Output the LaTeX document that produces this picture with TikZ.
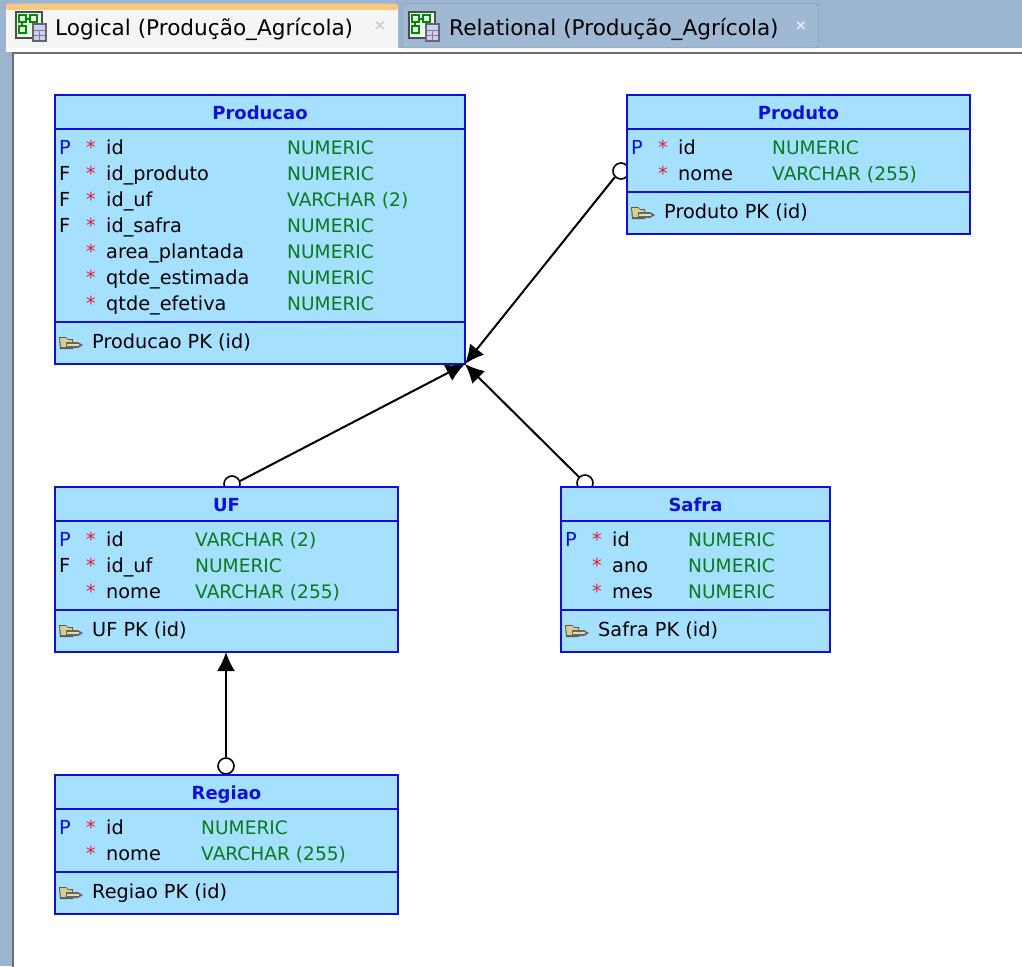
\documentclass[tikz,border=0pt]{standalone}
\usepackage{fontspec}
\setmainfont{DejaVu Sans}
\usetikzlibrary{arrows.meta}
\definecolor{bgblue}{HTML}{9BB5D1}
\definecolor{tabin}{HTML}{9FB8D3}
\definecolor{boxfill}{HTML}{A5E0FF}
\definecolor{boxline}{HTML}{1010D8}
\definecolor{typegreen}{HTML}{0A7A1E}
\definecolor{starred}{HTML}{E0203A}
\definecolor{tabtop}{HTML}{F8C97C}
\definecolor{frame}{HTML}{6E6E6E}
\definecolor{keyfold}{HTML}{D8CF8A}
\tikzset{
  ent/.style={draw=boxline,line width=2pt,fill=boxfill,inner sep=0pt,outer sep=0pt,anchor=north west},
  sepline/.style={draw=boxline,line width=2pt},
  txt/.style={inner sep=0pt,anchor=base west,font=\fontsize{19.3}{22}\selectfont},
  ttl/.style={inner sep=0pt,anchor=base,font=\fontsize{18}{20}\selectfont\bfseries,text=boxline},
  kind/.style={txt,text=boxline},
  star/.style={txt,text=starred},
  coltype/.style={txt,text=typegreen,font=\fontsize{18.6}{22}\selectfont},
  tabtxt/.style={inner sep=0pt,anchor=base west,font=\fontsize{21.6}{24}\selectfont},
  rel/.style={draw=black,line width=2pt,-{Latex[length=19pt,width=18pt]}},
  opt/.style={draw=black,line width=1.6pt,fill=white,circle,minimum size=16pt,inner sep=0pt},
}
\newcommand{\entbox}[7]{%
  \node[ent,minimum width=#4pt,minimum height=#5pt] (#1) at (#2,#3) {};
  \draw[sepline] (#2,#3+34) -- (#2+#4,#3+34);
  \draw[sepline] (#2,#3+#7) -- (#2+#4,#3+#7);
  \node[ttl] (#1t) at (#2+#4/2,#3+24) {#6};
}
\newcommand{\colrow}[7]{%
  \node[kind] (k#1) at (#2+4,#3+7) {#4};
  \node[star] (s#1) at (#2+31,#3+7) {*};
  \node[txt] (n#1) at (#2+51,#3+7) {#5};
  \node[coltype] (c#1) at (#6,#3+7) {#7};
}
\newcommand{\keyicon}[2]{%
  \fill[black!65] (#1,#2-5) -- (#1+7,#2-5) -- (#1+9,#2-3) -- (#1+14,#2-3) -- (#1+14,#2+7) -- (#1+1,#2+7) -- cycle;
  \fill[keyfold] (#1+1,#2-4) -- (#1+7,#2-4) -- (#1+9,#2-2) -- (#1+13,#2-2) -- (#1+13,#2+5) -- (#1+2,#2+5) -- cycle;
  \fill[black!60] (#1+7,#2) -- (#1+19,#2) -- (#1+24,#2+3) -- (#1+19,#2+6) -- (#1+7,#2+6) -- cycle;
  \fill[keyfold!70!white] (#1+8,#2+1.5) rectangle (#1+20,#2+3.5);
}
\newcommand{\tabicon}[2]{%
  \fill[black!70] (#1,#2) rectangle (#1+28,#2+28);
  \fill[green!8!white] (#1+2,#2+2) rectangle (#1+26,#2+26);
  \draw[green!55!black,line width=1.6pt] (#1+4,#2+4) rectangle (#1+11,#2+11) (#1+15,#2+4) rectangle (#1+22,#2+11) (#1+4,#2+15) rectangle (#1+11,#2+22) (#1+7,#2+11) -- (#1+7,#2+15) (#1+11,#2+8) -- (#1+15,#2+8);
  \fill[black!60] (#1+17,#2+12) rectangle (#1+32,#2+31);
  \fill[blue!20!white] (#1+19,#2+14) rectangle (#1+30,#2+29);
  \draw[black!50,line width=.8pt] (#1+19,#2+19) -- (#1+30,#2+19) (#1+19,#2+24) -- (#1+30,#2+24) (#1+24.5,#2+19) -- (#1+24.5,#2+29);
}
\begin{document}
\begin{tikzpicture}[x=1pt,y=-1pt]
\useasboundingbox (0,0) rectangle (1022,966);
\fill[bgblue] (0,0) rectangle (1022,966);
% tabs
\fill[white] (6,48) rectangle (1022,52);
\fill[tabin,draw=bgblue!85!black,line width=.5pt,rounded corners=3pt] (402,4) -- (818,4) -- (818,48) -- (402,48) -- cycle;
\fill[white!96!black,rounded corners=3pt] (6,4) -- (398,4) -- (398,48) -- (6,48) -- cycle;
\fill[tabtop,rounded corners=2pt] (6,4) rectangle (398,10);
\fill[white!96!black] (6,10) rectangle (398,48);
% canvas
\fill[white,draw=frame,line width=2pt] (13,53) rectangle (1030,980);
\tabicon{15}{11}
\node[tabtxt] (tab1) at (55,36) {Logical (Produção\_Agrícola)};
\node[inner sep=0pt,text=black!20,font=\fontsize{15}{15}\selectfont\bfseries] (x1) at (380,26) {×};
\tabicon{408}{11}
\node[tabtxt] (tab2) at (449,36) {Relational (Produção\_Agrícola)};
\node[inner sep=0pt,text=white!75!bgblue,font=\fontsize{15}{15}\selectfont\bfseries] (x3) at (801,26) {×};

% optional circles (behind boxes)
\node[opt] (oprod) at (621,171) {};
\node[opt] (ouf) at (232,484) {};
\node[opt] (osaf) at (585,483) {};
\node[opt] (oreg) at (226,766) {};
\coordinate (corner) at (465,364);

% Producao
\entbox{producao}{55}{95}{410}{269}{Producao}{227}
\colrow{a1}{55}{147}{P}{id}{287}{NUMERIC}
\colrow{a2}{55}{173}{\textcolor{black}{F}}{id\_produto}{287}{NUMERIC}
\colrow{a3}{55}{199}{\textcolor{black}{F}}{id\_uf}{287}{VARCHAR (2)}
\colrow{a4}{55}{225}{\textcolor{black}{F}}{id\_safra}{287}{NUMERIC}
\colrow{a5}{55}{251}{}{area\_plantada}{287}{NUMERIC}
\colrow{a6}{55}{277}{}{qtde\_estimada}{287}{NUMERIC}
\colrow{a7}{55}{303}{}{qtde\_efetiva}{287}{NUMERIC}
\keyicon{59}{342}
\node[txt] (ka) at (92,348) {Producao PK (id)};

% Produto
\entbox{produto}{627}{95}{343}{139}{Produto}{97}
\colrow{b1}{627}{147}{P}{id}{772}{NUMERIC}
\colrow{b2}{627}{173}{}{nome}{772}{VARCHAR (255)}
\keyicon{631}{212}
\node[txt] (kb) at (664,218) {Produto PK (id)};

% UF
\entbox{uf}{55}{487}{343}{165}{UF}{123}
\colrow{c1}{55}{539}{P}{id}{195}{VARCHAR (2)}
\colrow{c2}{55}{565}{\textcolor{black}{F}}{id\_uf}{195}{NUMERIC}
\colrow{c3}{55}{591}{}{nome}{195}{VARCHAR (255)}
\keyicon{59}{630}
\node[txt] (kc) at (92,636) {UF PK (id)};

% Safra
\entbox{safra}{561}{487}{269}{165}{Safra}{123}
\colrow{d1}{561}{539}{P}{id}{688}{NUMERIC}
\colrow{d2}{561}{565}{}{ano}{688}{NUMERIC}
\colrow{d3}{561}{591}{}{mes}{688}{NUMERIC}
\keyicon{565}{630}
\node[txt] (kd) at (598,636) {Safra PK (id)};

% Regiao
\entbox{regiao}{55}{775}{343}{139}{Regiao}{97}
\colrow{e1}{55}{827}{P}{id}{201}{NUMERIC}
\colrow{e2}{55}{853}{}{nome}{201}{VARCHAR (255)}
\keyicon{59}{892}
\node[txt] (ke) at (92,898) {Regiao PK (id)};

% connectors
\draw[rel] (oprod.south west) -- (corner);
\draw[rel] (ouf) ++(8,-3) -- (corner);
\draw[rel] (osaf) ++(-6,-6) -- (corner);
\draw[rel] (oreg.north) -- (uf.south -| oreg);
\end{tikzpicture}
\end{document}
